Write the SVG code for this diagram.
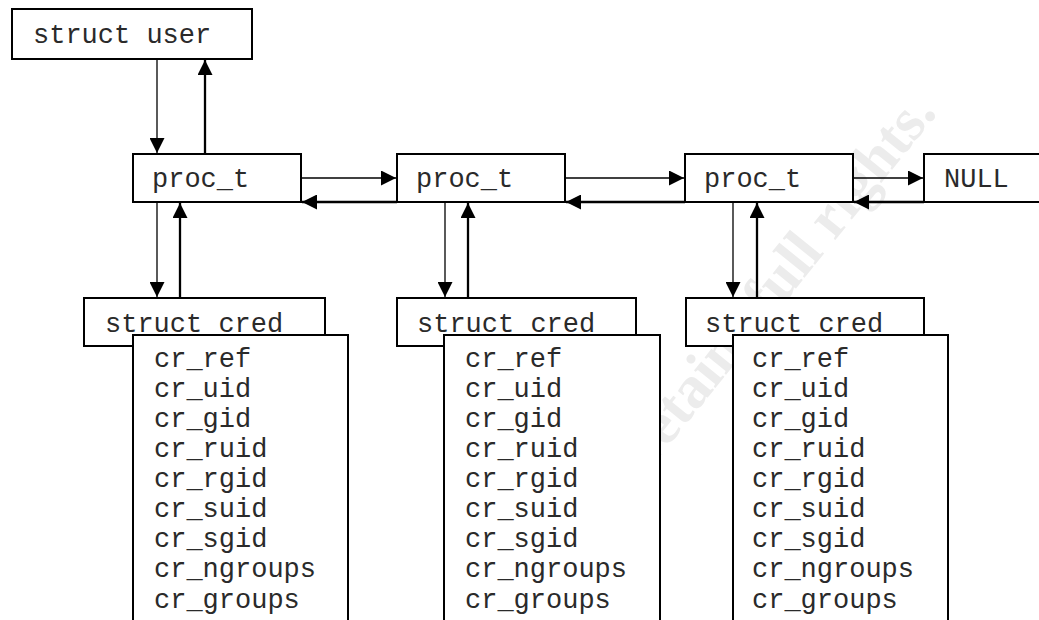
<svg xmlns="http://www.w3.org/2000/svg" width="1039" height="620" viewBox="0 0 1039 620">
<style>
.box{fill:#fff;stroke:#000;stroke-width:2}
.t{font-family:"Liberation Mono","Courier New",monospace;font-size:27px;fill:#2a2a2a}
.thin{stroke:#000;stroke-width:1.3;fill:none}
.thick{stroke:#000;stroke-width:2.3;fill:none}
.wm{font-family:"Liberation Serif","Times New Roman",serif;font-weight:bold;font-size:60px;fill:#ececec}
</style>
<defs>
<marker id="ah" viewBox="0 0 15 15" refX="15" refY="7.5" markerWidth="15" markerHeight="15" markerUnits="userSpaceOnUse" orient="auto"><path d="M0,0 L15,7.5 L0,15 z" fill="#000"/></marker>
</defs>
<rect width="1039" height="620" fill="#fff"/>
<text class="wm" transform="translate(938,113) rotate(-51)" text-anchor="end">retains full rights.</text>
<g id="user"><rect class="box" x="12" y="9" width="240" height="50"/><text class="t" x="33" y="43">struct user</text></g>
<g id="proc1"><rect class="box" x="133" y="154" width="168" height="48"/><text class="t" x="152" y="187">proc_t</text></g>
<g id="proc2"><rect class="box" x="397" y="154" width="168" height="48"/><text class="t" x="416" y="187">proc_t</text></g>
<g id="proc3"><rect class="box" x="685" y="154" width="168" height="48"/><text class="t" x="704" y="187">proc_t</text></g>
<g id="null"><rect class="box" x="924" y="154" width="130" height="48"/><text class="t" x="944" y="187">NULL</text></g>
<g id="cred1"><rect class="box" x="84" y="298" width="241" height="48"/><text class="t" x="105" y="332">struct_cred</text>
<rect class="box" x="133" y="335" width="215" height="300"/>
<text class="t"><tspan x="154" y="367">cr_ref</tspan><tspan x="154" y="397">cr_uid</tspan><tspan x="154" y="427">cr_gid</tspan><tspan x="154" y="457">cr_ruid</tspan><tspan x="154" y="487">cr_rgid</tspan><tspan x="154" y="517">cr_suid</tspan><tspan x="154" y="547">cr_sgid</tspan><tspan x="154" y="577">cr_ngroups</tspan><tspan x="154" y="608">cr_groups</tspan></text></g>
<g id="cred2"><rect class="box" x="397" y="298" width="239" height="48"/><text class="t" x="417" y="332">struct_cred</text>
<rect class="box" x="444" y="335" width="216" height="300"/>
<text class="t"><tspan x="465" y="367">cr_ref</tspan><tspan x="465" y="397">cr_uid</tspan><tspan x="465" y="427">cr_gid</tspan><tspan x="465" y="457">cr_ruid</tspan><tspan x="465" y="487">cr_rgid</tspan><tspan x="465" y="517">cr_suid</tspan><tspan x="465" y="547">cr_sgid</tspan><tspan x="465" y="577">cr_ngroups</tspan><tspan x="465" y="608">cr_groups</tspan></text></g>
<g id="cred3"><rect class="box" x="686" y="298" width="238" height="48"/><text class="t" x="705" y="332">struct_cred</text>
<rect class="box" x="733" y="335" width="215" height="300"/>
<text class="t"><tspan x="752" y="367">cr_ref</tspan><tspan x="752" y="397">cr_uid</tspan><tspan x="752" y="427">cr_gid</tspan><tspan x="752" y="457">cr_ruid</tspan><tspan x="752" y="487">cr_rgid</tspan><tspan x="752" y="517">cr_suid</tspan><tspan x="752" y="547">cr_sgid</tspan><tspan x="752" y="577">cr_ngroups</tspan><tspan x="752" y="608">cr_groups</tspan></text></g>
<g id="connectors">
<line class="thin" x1="157" y1="60" x2="157" y2="153" marker-end="url(#ah)"/>
<line class="thick" x1="205" y1="153" x2="205" y2="60" marker-end="url(#ah)"/>
<line class="thin" x1="302" y1="178" x2="396" y2="178" marker-end="url(#ah)"/>
<line class="thick" x1="397" y1="202" x2="302" y2="202" marker-end="url(#ah)"/>
<line class="thin" x1="566" y1="178" x2="684" y2="178" marker-end="url(#ah)"/>
<line class="thick" x1="685" y1="202" x2="566" y2="202" marker-end="url(#ah)"/>
<line class="thin" x1="854" y1="178" x2="923" y2="178" marker-end="url(#ah)"/>
<line class="thick" x1="924" y1="202" x2="854" y2="202" marker-end="url(#ah)"/>
<line class="thin" x1="157" y1="203" x2="157" y2="297" marker-end="url(#ah)"/>
<line class="thick" x1="180" y1="297" x2="180" y2="203" marker-end="url(#ah)"/>
<line class="thin" x1="445" y1="203" x2="445" y2="297" marker-end="url(#ah)"/>
<line class="thick" x1="468" y1="297" x2="468" y2="203" marker-end="url(#ah)"/>
<line class="thin" x1="733" y1="203" x2="733" y2="297" marker-end="url(#ah)"/>
<line class="thick" x1="757" y1="297" x2="757" y2="203" marker-end="url(#ah)"/>
</g>
</svg>
